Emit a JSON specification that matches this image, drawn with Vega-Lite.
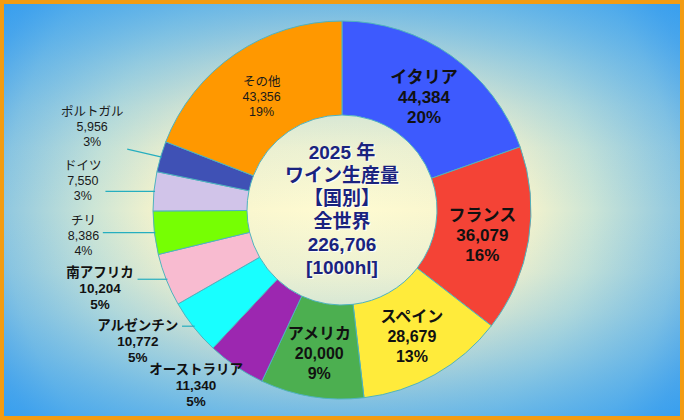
{
  "$schema": "https://vega.github.io/schema/vega-lite/v6.json",
  "width": 684,
  "height": 420,
  "autosize": {"type": "fit", "contains": "padding"},
  "padding": 0,
  "background": "#2196f3",
  "config": {
    "view": {"stroke": null},
    "text": {"font": "Liberation Sans, Noto Sans CJK JP, sans-serif"}
  },
  "layer": [
    {
      "data": {"values": [{}]},
      "mark": {
        "type": "rect",
        "fill": {
          "gradient": "radial",
          "x1": 0.5, "y1": 0.5, "r1": 0,
          "x2": 0.5, "y2": 0.5, "r2": 0.707,
          "stops": [
            {"offset": 0, "color": "#fffbd2"},
            {"offset": 0.38, "color": "#f5f3cc"},
            {"offset": 0.52, "color": "#cce5d6"},
            {"offset": 0.7, "color": "#90c8e0"},
            {"offset": 0.78, "color": "#68b2e6"},
            {"offset": 1, "color": "#2196f3"}
          ]
        }
      },
      "encoding": {}
    },
    {
      "data": {"values": [{}]},
      "mark": {
        "type": "rect",
        "fill": {
          "gradient": "linear",
          "x1": 0, "y1": 0, "x2": 0, "y2": 1,
          "stops": [
            {"offset": 0, "color": "rgba(33,150,243,0.6)"},
            {"offset": 0.15, "color": "rgba(33,150,243,0.33)"},
            {"offset": 0.25, "color": "rgba(33,150,243,0.18)"},
            {"offset": 0.35, "color": "rgba(33,150,243,0.07)"},
            {"offset": 0.5, "color": "rgba(33,150,243,0)"},
            {"offset": 0.65, "color": "rgba(33,150,243,0.07)"},
            {"offset": 0.75, "color": "rgba(33,150,243,0.18)"},
            {"offset": 0.85, "color": "rgba(33,150,243,0.33)"},
            {"offset": 1, "color": "rgba(33,150,243,0.6)"}
          ]
        },
        "stroke": "#f39c12",
        "strokeWidth": 4
      },
      "encoding": {}
    },
    {
      "data": {
        "values": [
          {"idx": 0, "name": "イタリア", "value": 44384},
          {"idx": 1, "name": "フランス", "value": 36079},
          {"idx": 2, "name": "スペイン", "value": 28679},
          {"idx": 3, "name": "アメリカ", "value": 20000},
          {"idx": 4, "name": "オーストラリア", "value": 11340},
          {"idx": 5, "name": "アルゼンチン", "value": 10772},
          {"idx": 6, "name": "南アフリカ", "value": 10204},
          {"idx": 7, "name": "チリ", "value": 8386},
          {"idx": 8, "name": "ドイツ", "value": 7550},
          {"idx": 9, "name": "ポルトガル", "value": 5956},
          {"idx": 10, "name": "その他", "value": 43356}
        ]
      },
      "transform": [
        {"joinaggregate": [{"op": "sum", "field": "value", "as": "total"}]},
        {
          "window": [{"op": "sum", "field": "value", "as": "cum"}],
          "sort": [{"field": "idx"}],
          "frame": [null, 0]
        },
        {"calculate": "(datum.cum - datum.value / 2) / datum.total * 2 * PI", "as": "a"},
        {"calculate": "datum.value < 15000", "as": "outside"},
        {"calculate": "[datum.name, format(datum.value, ','), format(datum.value / datum.total, '.0%')]", "as": "label"},
        {"calculate": "datum.value >= 9000 ? 13.5 : 12.5", "as": "fs"},
        {"calculate": "max(length(datum.name) * datum.fs, 31) / 2", "as": "hw"},
        {"calculate": "sin(datum.a) * 262", "as": "ox"},
        {"calculate": "cos(datum.a) * 215 + max(0, cos(datum.a)) * 80", "as": "oy"},
        {"calculate": "datum.outside ? datum.ox : sin(datum.a) * 143", "as": "lx"},
        {"calculate": "datum.outside ? datum.oy : cos(datum.a) * 143 - 4", "as": "ly"},
        {"calculate": "sin(datum.a) * 189", "as": "px"},
        {"calculate": "cos(datum.a) * 189", "as": "py"},
        {"calculate": "datum.ox + datum.hw + 4", "as": "ex"},
        {"calculate": "clamp(datum.py, datum.oy - 22, datum.oy + 22)", "as": "ey"}
      ],
      "layer": [
        {
          "mark": {"type": "arc", "outerRadius": 189, "innerRadius": 95, "stroke": "#4fb3bf", "strokeWidth": 1},
          "encoding": {
            "theta": {"field": "value", "type": "quantitative", "stack": true},
            "order": {"field": "idx", "type": "quantitative"},
            "color": {
              "field": "name",
              "type": "nominal",
              "legend": null,
              "scale": {
                "domain": ["イタリア", "フランス", "スペイン", "アメリカ", "オーストラリア", "アルゼンチン", "南アフリカ", "チリ", "ドイツ", "ポルトガル", "その他"],
                "range": ["#3d5afe", "#f44336", "#ffeb3b", "#4caf50", "#9c27b0", "#18ffff", "#f8bbd0", "#76ff03", "#d1c4e9", "#3f51b5", "#ff9800"]
              }
            }
          }
        },
        {
          "transform": [{"filter": "datum.outside && datum.ex < datum.px - 4"}],
          "mark": {"type": "rule", "color": "#26aebf", "strokeWidth": 1.2},
          "encoding": {
            "x": {"field": "px", "type": "quantitative", "scale": {"domain": [-342, 342], "nice": false, "zero": false}, "axis": null},
            "x2": {"field": "ex"},
            "y": {"field": "py", "type": "quantitative", "scale": {"domain": [-210, 210], "nice": false, "zero": false}, "axis": null},
            "y2": {"field": "ey"}
          }
        },
        {
          "transform": [{"filter": "!datum.outside && datum.name !== 'その他'"}],
          "mark": {"type": "text", "fontWeight": "bold", "lineHeight": 20, "baseline": "middle", "dy": -20, "color": "#111111"},
          "encoding": {
            "x": {"field": "lx", "type": "quantitative", "scale": {"domain": [-342, 342], "nice": false, "zero": false}, "axis": null},
            "y": {"field": "ly", "type": "quantitative", "scale": {"domain": [-210, 210], "nice": false, "zero": false}, "axis": null},
            "text": {"field": "label"},
            "size": {"condition": {"test": "datum.value > 30000", "value": 17}, "value": 16}
          }
        },
        {
          "transform": [{"filter": "datum.value < 9000 || datum.name === 'その他'"}],
          "mark": {"type": "text", "fontSize": 12.5, "lineHeight": 15, "baseline": "middle", "dy": -15, "color": "#1a1a1a"},
          "encoding": {
            "x": {"field": "lx", "type": "quantitative", "scale": {"domain": [-342, 342], "nice": false, "zero": false}, "axis": null},
            "y": {"field": "ly", "type": "quantitative", "scale": {"domain": [-210, 210], "nice": false, "zero": false}, "axis": null},
            "text": {"field": "label"}
          }
        },
        {
          "transform": [{"filter": "datum.outside && datum.value >= 9000"}],
          "mark": {"type": "text", "fontSize": 13.5, "fontWeight": "bold", "lineHeight": 16, "baseline": "middle", "dy": -16, "color": "#111111"},
          "encoding": {
            "x": {"field": "lx", "type": "quantitative", "scale": {"domain": [-342, 342], "nice": false, "zero": false}, "axis": null},
            "y": {"field": "ly", "type": "quantitative", "scale": {"domain": [-210, 210], "nice": false, "zero": false}, "axis": null},
            "text": {"field": "label"}
          }
        }
      ]
    },
    {
      "data": {"values": [{}]},
      "mark": {"type": "text", "fontSize": 19, "fontWeight": "bold", "lineHeight": 23, "baseline": "middle", "color": "#ffffff", "opacity": 0.85, "dx": 1.5, "dy": -56},
      "encoding": {
        "text": {"value": ["2025 年", "ワイン生産量", "【国別】", "全世界", "226,706", "[1000hl]"]}
      }
    },
    {
      "data": {"values": [{}]},
      "mark": {"type": "text", "fontSize": 19, "fontWeight": "bold", "lineHeight": 23, "baseline": "middle", "dy": -57.5, "color": "#1a237e"},
      "encoding": {
        "text": {"value": ["2025 年", "ワイン生産量", "【国別】", "全世界", "226,706", "[1000hl]"]}
      }
    }
  ]
}
